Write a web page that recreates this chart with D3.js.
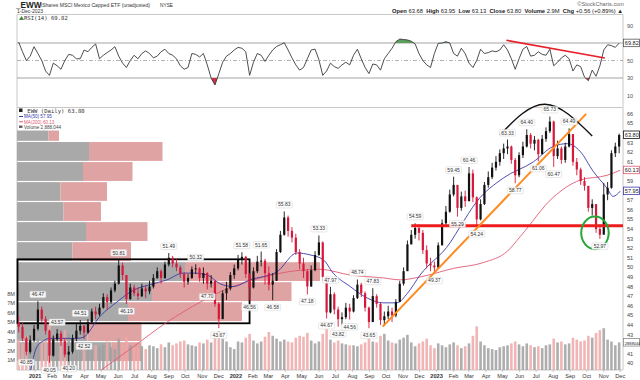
<!DOCTYPE html>
<html><head><meta charset="utf-8">
<script src="https://cdn.jsdelivr.net/npm/d3@7"></script>
<style>
body{margin:0;background:#fff}
svg{display:block}
text{font-family:"Liberation Sans",Arial,sans-serif}
.mono{font-family:"DejaVu Sans Mono",monospace}
</style>
</head><body>
<svg id="chart" width="640" height="380"></svg>
<script>
// ---------------- DATA ----------------
const firstWeek = "2020-12-04", lastWeek = "2023-12-01";   // weekly candles (Fridays)
const closes = [
43.8,42.6,41.2,42.4,43.6,
45.6,44.6,43.4,40.8, 42.5,43.1,42.3,40.9, 41.2,42.6,43.4,43.9, 43.2,44.3,45.4,45.1,45.8, 46.9,46.4,47.6,48.3,
50.2,49.2,46.7,47.9, 47.3,47.0,47.8,47.5,48.0, 48.9,49.6,48.9,50.3, 51.0,50.4,50.0,49.3, 48.5,48.9,49.8,49.9,48.9,
49.4,48.3,48.6,46.2, 44.6,47.3,47.8,49.2,49.9,
50.8,51.1,49.3,47.9, 49.6,50.6,50.7,49.4, 48.2,48.6,51.6,53.4, 55.2,53.8,53.1,51.6,50.4, 49.6,48.0,49.7,51.3,
52.6,49.0,45.3,47.2, 45.6,44.6,44.8,45.8,45.4, 46.8,48.2,47.3,45.8, 44.3,47.0,46.2,44.5,44.9, 45.4,45.0,46.4,48.3,
49.6,52.4,53.4,54.1, 53.6,51.8,50.4,50.2,50.0,
52.3,54.6,55.8,57.6, 58.6,56.2,57.4,56.9, 59.8,57.3,55.0,56.6,58.6, 59.4,60.4,61.0,61.9, 62.4,62.6,61.2,59.6,
61.7,62.6,63.8,62.9,63.3, 61.8,63.4,64.2,65.2, 61.6,62.4,61.2,62.6, 63.9,61.0,60.2,59.0,58.5, 56.2,56.6,54.0,53.4,
57.6,58.3,61.9,62.6, 63.80];
const highs = [
44.9,44.2,42.8,42.9,44.0,
46.47,45.9,44.9,43.5, 42.9,43.57,43.4,42.6, 41.8,43.0,44.1,44.51, 44.0,44.6,45.7,45.9,46.2, 47.3,47.2,47.9,48.6,
50.81,50.5,49.1,48.3, 48.2,47.9,48.3,48.1,48.6, 49.3,50.0,49.8,50.6, 51.49,51.2,50.9,50.2, 49.5,49.3,50.1,50.32,50.0,
50.0,49.5,49.2,48.4, 46.4,47.6,48.5,49.5,50.3,
51.3,51.58,51.2,49.4, 50.0,51.2,51.65,50.9, 50.1,49.4,51.9,53.8, 55.83,55.4,54.2,53.5,51.9, 51.0,49.8,50.2,51.7,
53.33,52.7,49.0,47.97, 47.4,45.9,45.3,46.3,46.2, 47.1,48.74,48.4,47.5, 45.9,47.83,47.2,46.3,45.4, 46.0,45.8,46.7,48.6,
50.0,52.8,53.9,54.59, 54.5,53.9,52.3,51.0,50.6,
52.6,55.0,56.4,58.1, 59.45,58.5,57.9,58.0, 60.46,60.2,57.4,57.1,58.9, 60.0,60.9,61.6,62.3, 62.9,63.33,62.7,61.4,
62.0,63.1,64.40,64.0,63.7, 63.4,63.8,64.6,65.73, 65.3,63.2,62.6,63.0, 64.49,63.9,61.4,60.4,59.4, 58.4,57.1,56.2,54.5,
58.8,58.9,62.2,63.0, 63.95];
const lows = [
43.2,42.3,40.85,41.0,42.2,
43.4,44.2,43.0,40.05, 40.7,42.3,41.8,40.6, 40.20,41.0,42.3,43.0, 42.52,43.1,44.2,44.6,44.9, 45.7,45.6,46.2,47.4,
48.2,48.7,46.19,46.6, 47.0,46.6,46.9,46.8,47.2, 47.8,48.8,48.3,48.8, 50.1,50.0,49.6,48.9, 47.9,48.2,48.8,49.3,48.5,
48.3,47.70,47.9,45.9, 43.67,44.8,46.6,47.6,48.8,
49.7,50.3,48.9,46.56, 47.8,49.4,50.1,48.2, 47.6,46.58,48.6,51.5, 53.3,53.2,52.6,51.3,49.8, 48.9,47.18,48.0,49.6,
51.2,48.6,44.67,45.2, 45.1,43.82,44.0,44.6,44.56, 45.3,46.7,46.9,45.4, 43.65,44.3,45.8,44.0,43.9, 44.6,44.3,44.8,46.4,
48.1,49.8,52.4,53.0, 52.8,51.4,49.9,49.6,49.37,
49.9,52.3,54.4,55.7, 57.4,55.29,55.9,56.3, 56.9,56.8,54.24,54.9,56.5, 58.3,59.2,60.1,60.6, 61.3,61.8,60.8,58.77,
59.4,61.4,62.5,62.4,62.2, 61.06,61.8,63.1,64.0, 60.47,61.3,60.8,60.9, 62.5,60.6,59.6,58.6,58.0, 55.8,55.4,53.6,52.97,
53.6,57.0,58.2,61.5, 61.9];
const volumesM = [
3.2,2.8,3.6,2.2,2.5,
3.4,3.0,3.1,4.8, 3.6,2.9,3.0,4.2, 3.8,3.1,2.9,2.6, 2.7,2.5,2.2,2.6,2.4, 2.6,3.0,2.4,2.2,
3.3,2.7,3.5,2.6, 2.3,2.4,2.5,2.2,2.6, 2.5,2.3,2.7,2.4, 2.9,2.6,2.8,3.0, 3.1,2.7,2.6,2.5,2.9,
2.8,3.2,2.9,3.6, 4.1,3.3,3.0,2.4,2.2,
3.0,2.9,3.4,3.8, 3.1,2.8,3.0,3.5, 4.0,3.6,3.3,3.0, 3.2,3.0,2.9,3.4,3.6, 3.5,3.9,3.1,2.8,
3.0,3.8,4.3,3.2, 2.9,3.1,2.8,2.7,2.6, 2.6,2.5,2.7,2.9, 3.3,3.0,2.9,3.6,3.8, 3.1,2.9,2.8,3.2,
3.4,3.7,2.9,2.5, 2.8,3.0,3.3,2.6,2.3,
2.8,2.6,2.4,2.7, 2.9,2.6,2.3,2.5, 2.8,3.6,4.6,3.0,2.6, 2.3,2.2,2.1,2.4, 2.5,2.6,2.8,3.0,
2.7,2.5,2.8,2.6,2.4, 2.5,2.3,2.6,2.7, 3.3,2.9,3.0,2.7, 2.8,3.4,3.2,3.0,3.1, 3.6,3.4,3.9,4.2,
4.4,3.2,3.0,2.6, 2.9];
const rsi14 = [
71,60,50,55,65.8,
58,50,38,33, 47,44,40,50, 57,56,52,52, 62,60,65,68.9,52, 56,59,62,65.8,
55,47,42,50, 56,52,58,61,58, 53,55,60,62.9, 58,56,52,44, 40,42,58,57,54,
58,45,30,22, 35,48,55,58,62,
65,64,60,33, 48,58,56,49, 56,62,66,68, 70.3,62,53,45,39, 42,52,62,63,
51,33,38,47, 43,41,45,48,45, 56,62.9,52,42, 35,46,45,39,52, 58,64,71.5,74.5,
74,73.5,72,69, 58,50,45,42,58,
69.6,70,71.5,70, 58,55,64,58, 47,42,50,62.9,58, 59,61,60,62, 68,62,52,40,
52,62.9,66,55,56, 60,57,56,62.9, 44,48,53,56, 52,38,45,43,31, 27,39,32,44,
62,68,67,65, 69.82];
// moving averages
const ma50Dates = ["2020-12-23","2021-01-04","2021-01-15","2021-01-28","2021-03-18","2021-03-29","2021-04-29","2021-05-30","2021-06-28","2021-07-29","2021-08-29","2021-09-27","2021-10-15","2021-11-10","2021-12-03","2021-12-27","2022-01-27","2022-03-17","2022-04-22","2022-05-16","2022-06-09","2022-06-27","2022-07-28","2022-08-28","2022-09-26","2022-10-21","2022-11-09","2022-12-02","2023-01-26","2023-02-13","2023-03-15","2023-05-02","2023-06-26","2023-08-01","2023-08-27","2023-09-19","2023-10-13","2023-11-07","2023-11-18","2023-12-01"];
const ma50Values = [39.0,41.7,42.3,42.6,42.6,42.7,44.9,46.4,47.6,48.2,48.7,49.4,49.4,49.2,48.3,48.0,48.7,49.55,51.5,51.3,50.8,49.4,48.0,46.8,46.3,46.3,47.3,49.2,52.6,54.25,56.85,59.3,61.0,62.6,62.9,62.1,60.0,58.25,57.4,57.95];
const ma200Dates = ["2021-04-24","2021-06-28","2021-08-29","2021-10-29","2021-12-05","2022-01-27","2022-04-28","2022-06-03","2022-07-28","2022-09-26","2022-10-27","2022-12-02","2023-02-01","2023-03-27","2023-05-10","2023-06-02","2023-08-01","2023-09-19","2023-11-07","2023-12-01"];
const ma200Values = [39.0,41.7,44.3,46.4,47.5,48.6,49.7,49.8,49.2,48.9,48.7,49.0,49.9,50.5,51.7,53.2,57.3,59.1,59.6,60.13];
// volume by price (zones from bottom to top; up / down volume, millions)
const vbpBottoms = [40.17,42.26,44.34,46.43,48.52,50.60,52.69,54.78,56.87,58.95,61.04,63.13];
const vbpTops    = [42.26,44.34,46.43,48.52,50.60,52.69,54.78,56.87,58.95,61.04,63.13,64.33];
const vbpUp   = [63,47,74,90,112,37,46,31,29,44,48,21];
const vbpDown = [20,36,76,93,90,39,41,25,31,33,49,7];
// peak / trough labels
const labelDates  = ["2020-12-18","2021-01-08","2021-01-29","2021-02-12","2021-03-05","2021-03-26","2021-04-02","2021-06-04","2021-06-18","2021-09-03","2021-10-22","2021-11-12","2021-12-03","2022-01-14","2022-01-28","2022-02-18","2022-03-11","2022-04-01","2022-05-13","2022-06-03","2022-06-17","2022-06-24","2022-07-08","2022-07-29","2022-08-12","2022-09-02","2022-09-09","2022-11-25","2022-12-30","2023-02-03","2023-02-10","2023-03-03","2023-03-17","2023-05-12","2023-05-26","2023-06-16","2023-07-07","2023-07-28","2023-08-04","2023-09-01","2023-10-27"];
const labelValues = [40.85,46.47,40.05,43.57,40.20,44.51,42.52,50.81,46.19,51.49,50.32,47.70,43.67,51.58,46.56,51.65,46.58,55.83,47.18,53.33,44.67,47.97,43.82,44.56,48.74,43.65,47.83,54.59,49.37,59.45,55.29,60.46,54.24,63.33,58.77,64.40,61.06,65.73,60.47,64.49,52.97];
const labelKinds  = ["L","H","L","H","L","H","L","H","L","H","H","L","L","H","L","H","L","H","L","H","L","H","L","L","H","L","H","H","L","H","L","H","L","H","L","H","L","H","L","H","L"];
// annotations (date, value)
const supportLine = [["2022-11-16",54.35],["2023-12-06",54.35]];
const trendLine   = [["2022-09-25",43.82],["2023-09-30",66.0]];
const topArc      = [["2023-04-26",63.8],["2023-07-17",67.0],["2023-10-11",63.7]];
const boxZone     = [["2020-11-29",44.17],["2022-01-25",50.84]];
const circleLow   = {date:"2023-10-16", value:53.6, days:25, dv:1.7};
const rsiTrend    = [["2023-05-08",73.1],["2023-11-03",52.9]];
const priceTicks = d3.range(40,67);
const rsiTicks = [10,30,50,70,90];
const volTicks = [1,2,3,4,5,6,7,8];

// ---------------- CHART ----------------
const parse = d3.timeParse("%Y-%m-%d");
const svg = d3.select("#chart");
const L = 17, R = 623;
const x = d3.scaleTime().domain([parse("2020-11-29"), parse("2023-12-06")]).range([L, R]);
const y = d3.scaleLinear().domain([39.30, 66.72]).range([370, 107]);
const yv = d3.scaleLinear().domain([0, 27.68]).range([370, 107]);
const yr = d3.scaleLinear().domain([0, 100]).range([104.25, 16.75]);
const vbpX = d3.scaleLinear().domain([0, 404]).range([0, 606]);

const weeks = d3.timeFriday.range(parse(firstWeek), d3.timeDay.offset(parse(lastWeek), 1));
const data = weeks.map((d, i) => ({
  date: d, cx: x(d3.timeDay.offset(d, -2)),
  o: i ? closes[i-1] : 44.2, c: closes[i], h: highs[i], l: lows[i], v: volumesM[i], r: rsi14[i]
}));

// header
const hdr = svg.append("g");
hdr.append("text").attr("x", 16).attr("y", 7.5).attr("font-size", 8.2).attr("font-weight", "bold").attr("fill","#222").text("_EWW");
hdr.append("text").attr("x", 41).attr("y", 7).attr("font-size", 5.1).attr("fill","#333").text("iShares MSCI Mexico Capped ETF (unadjusted)");
hdr.append("text").attr("x", 160).attr("y", 7).attr("font-size", 4.8).attr("fill","#333").text("NYSE");
hdr.append("text").attr("x", 17).attr("y", 13).attr("font-size", 5).attr("fill","#333").text("1-Dec-2023");
hdr.append("text").attr("x", 624).attr("y", 6).attr("font-size", 5.6).attr("text-anchor","end").attr("fill","#666").text("©StockCharts.com");
const ohlc = hdr.append("text").attr("x", 623).attr("y", 12.5).attr("font-size", 5.8).attr("text-anchor","end").attr("fill","#222");
[["Open"," 63.68  "],["High"," 63.95  "],["Low"," 63.13  "],["Close"," 63.80  "],["Volume"," 2.9M  "],["Chg"," +0.56 (+0.89%) ▲"]].forEach(([k,v])=>{
  ohlc.append("tspan").attr("font-weight","bold").text(k);
  ohlc.append("tspan").attr("xml:space","preserve").text(v);
});

// value box helper
function valBox(g, yy, txt, color, fs){
  g.append("rect").attr("x", 623.5).attr("y", yy-4).attr("width", 16).attr("height", 7.5).attr("fill","#fff").attr("stroke", color).attr("stroke-width",0.8);
  g.append("text").attr("x", 624.8).attr("y", yy+2).attr("font-size", fs || 5.6).attr("fill", "#222").text(txt);
}
function freeOf(yy, boxes){ return boxes.every(b => Math.abs(b - yy) > 6); }

// ---------- RSI panel ----------
const rg = svg.append("g");
rg.append("line").attr("x1", L).attr("x2", R).attr("y1", 14.5).attr("y2", 14.5).attr("stroke", "#c8c8c8");
rg.append("line").attr("x1", L).attr("x2", L).attr("y1", 14.5).attr("y2", 370).attr("stroke", "#c8c8c8");
rg.append("line").attr("x1", R).attr("x2", R).attr("y1", 14.5).attr("y2", 370).attr("stroke", "#c8c8c8");
[30,70].forEach(v => rg.append("line").attr("x1", L).attr("x2", R).attr("y1", yr(v)).attr("y2", yr(v)).attr("stroke", "#9a9a9a").attr("stroke-width", 0.9));
rg.append("line").attr("x1", L).attr("x2", R).attr("y1", yr(50)).attr("y2", yr(50)).attr("stroke", "#aaa").attr("stroke-width", 0.9).attr("stroke-dasharray", "4,2,1,2");
const rsiBoxes = [yr(69.82)];
rsiTicks.forEach(v => { if (freeOf(yr(v), rsiBoxes)) rg.append("text").attr("x", 627).attr("y", yr(v)+2).attr("font-size", 5.6).attr("fill", "#555").text(v); });
const rsiLine = d3.line().x(d => d.cx).y(d => yr(d.r));
svg.append("clipPath").attr("id","ob").append("rect").attr("x",L).attr("y",0).attr("width",R-L).attr("height",yr(70));
svg.append("clipPath").attr("id","os").append("rect").attr("x",L).attr("y",yr(30)).attr("width",R-L).attr("height",110-yr(30));
rg.append("path").datum(data).attr("clip-path","url(#ob)").attr("fill","#5aa05a")
  .attr("d", d3.area().x(d=>d.cx).y0(yr(70)).y1(d=>yr(d.r)));
rg.append("path").datum(data).attr("clip-path","url(#os)").attr("fill","#d03040")
  .attr("d", d3.area().x(d=>d.cx).y0(yr(30)).y1(d=>yr(d.r)));
rg.append("path").datum(data).attr("fill","none").attr("stroke","#3a3a3a").attr("stroke-width",0.9).attr("d", rsiLine);
rg.append("path").attr("fill","none").attr("stroke","#e8202a").attr("stroke-width",1.6)
  .attr("d", d3.line().x(d=>x(parse(d[0]))).y(d=>yr(d[1]))(rsiTrend));
rg.append("text").attr("class","mono").attr("x", 24).attr("y", 20).attr("font-size", 5.6).attr("fill","#333").text("RSI(14) 69.82");
rg.append("path").attr("d","M19,20 L21.5,16 L24,20 Z").attr("fill","#3a8a3a");
valBox(rg, yr(69.82), "69.82", "#555");

// ---------- main panel ----------
const mg = svg.append("g");
mg.append("line").attr("x1", L).attr("x2", R).attr("y1", 107.5).attr("y2", 107.5).attr("stroke", "#c8c8c8");
mg.append("line").attr("x1", L).attr("x2", R).attr("y1", 370).attr("y2", 370).attr("stroke", "#c8c8c8");
// volume by price
vbpBottoms.forEach((b, i) => {
  const top = y(vbpTops[i]) + 0.6, bot = y(b) - 0.6;
  const wU = vbpX(vbpUp[i]), wD = vbpX(vbpDown[i]);
  mg.append("rect").attr("x", L).attr("y", top).attr("width", wU).attr("height", bot-top).attr("fill", "#a9a9a9");
  mg.append("rect").attr("x", L + wU).attr("y", top).attr("width", wD).attr("height", bot-top).attr("fill", "#e0a3a3");
});
// volume bars
mg.selectAll(".vb").data(data).enter().append("rect")
  .attr("x", d => d.cx - 1.3).attr("width", 2.6)
  .attr("y", d => yv(d.v)).attr("height", d => yv(0) - yv(d.v))
  .attr("fill", d => d.c >= d.o ? "#a0a0a0" : "#eea8a8").attr("opacity", 0.85);
volTicks.forEach(v => mg.append("text").attr("x", 15).attr("y", yv(v)+2).attr("font-size", 5.6).attr("text-anchor","end").attr("fill","#444").text(v + "M"));
// box zone
mg.append("rect").attr("x", x(parse(boxZone[0][0]))+0.5).attr("y", y(boxZone[1][1]))
  .attr("width", x(parse(boxZone[1][0])) - x(parse(boxZone[0][0]))).attr("height", y(boxZone[0][1]) - y(boxZone[1][1]))
  .attr("fill","none").attr("stroke","#000").attr("stroke-width",1.8);
// moving averages
const maLine = d3.line().x(d => x(d[0])).y(d => y(d[1])).curve(d3.curveMonotoneX);
svg.append("clipPath").attr("id","mp").append("rect").attr("x",L).attr("y",107).attr("width",R-L).attr("height",263);
mg.append("path").attr("clip-path","url(#mp)").attr("fill","none").attr("stroke","#e05a72").attr("stroke-width",0.9)
  .attr("d", maLine(ma200Dates.map((d,i)=>[parse(d), ma200Values[i]])));
mg.append("path").attr("clip-path","url(#mp)").attr("fill","none").attr("stroke","#3a3aa8").attr("stroke-width",0.9)
  .attr("d", maLine(ma50Dates.map((d,i)=>[parse(d), ma50Values[i]])));
// candles
const cg = mg.append("g");
data.forEach(d => {
  const col = d.c >= d.o ? "#111" : "#d8173a";
  cg.append("line").attr("x1", d.cx).attr("x2", d.cx).attr("y1", y(d.h)).attr("y2", y(d.l)).attr("stroke", col).attr("stroke-width", 0.9);
  const t = y(Math.max(d.o, d.c)), b = y(Math.min(d.o, d.c));
  cg.append("rect").attr("x", d.cx - 1.1).attr("width", 2.2).attr("y", t).attr("height", Math.max(0.8, b - t)).attr("fill", col);
});
// annotations
mg.append("path").attr("fill","none").attr("stroke","#ee1c1c").attr("stroke-width",3)
  .attr("d", d3.line().x(d=>x(parse(d[0]))).y(d=>y(d[1]))(supportLine));
mg.append("path").attr("fill","none").attr("stroke","#ff8a1e").attr("stroke-width",2)
  .attr("d", d3.line().x(d=>x(parse(d[0]))).y(d=>y(d[1]))(trendLine));
mg.append("path").attr("fill","none").attr("stroke","#111").attr("stroke-width",1.4)
  .attr("d", d3.line().x(d=>x(parse(d[0]))).y(d=>y(d[1])).curve(d3.curveNatural)(topArc));
{
  const cd = parse(circleLow.date);
  mg.append("ellipse").attr("cx", x(cd)).attr("cy", y(circleLow.value))
    .attr("rx", x(d3.timeDay.offset(cd, circleLow.days)) - x(cd)).attr("ry", y(circleLow.value - circleLow.dv) - y(circleLow.value))
    .attr("fill","none").attr("stroke","#25a83a").attr("stroke-width",2);
}
// peak labels
labelDates.forEach((ds, i) => {
  const d = parse(ds);
  const cx = x(d3.timeDay.offset(d, -2));
  const hi = labelKinds[i] === "H";
  const ty = hi ? y(labelValues[i]) - 5 : y(labelValues[i]) + 9;
  const txt = labelValues[i].toFixed(2);
  mg.append("rect").attr("x", cx - 8).attr("y", ty - 5).attr("width", 16).attr("height", 6.5).attr("rx",1)
    .attr("fill","#fff").attr("fill-opacity",0.9).attr("stroke","#cfcfcf").attr("stroke-width",0.5);
  mg.append("text").attr("x", cx).attr("y", ty).attr("font-size", 5).attr("text-anchor","middle").attr("fill","#333").text(txt);
});
// price axis
const priceBoxes = [y(63.80), y(60.13), y(57.95), yv(2.888)];
priceTicks.forEach(v => { if (freeOf(y(v), priceBoxes)) mg.append("text").attr("x", 627).attr("y", y(v)+2).attr("font-size", 5.6).attr("fill","#444").text(v); });
valBox(mg, y(63.80), "63.80", "#111");
valBox(mg, y(60.13), "60.13", "#e05a72");
valBox(mg, y(57.95), "57.95", "#3a3aa8");
valBox(mg, yv(2.888), "2888044", "#888", 4.1);
// legend
mg.append("rect").attr("x",19).attr("y",108.5).attr("width",3.5).attr("height",3.5).attr("fill","#222");
mg.append("text").attr("class","mono").attr("x", 24).attr("y", 112.5).attr("font-size", 5.6).attr("fill","#333").text("_EWW (Daily) 63.80");
mg.append("line").attr("x1",19).attr("x2",23).attr("y1",116.5).attr("y2",116.5).attr("stroke","#3a3aa8").attr("stroke-width",1);
mg.append("text").attr("x", 24).attr("y", 118.3).attr("font-size", 4.6).attr("fill","#3a3aa8").text("MA(50) 57.95");
mg.append("line").attr("x1",19).attr("x2",23).attr("y1",121.8).attr("y2",121.8).attr("stroke","#e05a72").attr("stroke-width",1);
mg.append("text").attr("x", 24).attr("y", 123.6).attr("font-size", 4.6).attr("fill","#e05a72").text("MA(200) 60.13");
mg.append("rect").attr("x",19).attr("y",125.5).attr("width",3.5).attr("height",2.5).attr("fill","#666");
mg.append("text").attr("x", 24).attr("y", 128.8).attr("font-size", 4.6).attr("fill","#444").text("Volume 2,888,044");
// x axis
const months = d3.timeMonth.range(parse("2021-01-01"), parse("2023-12-02"));
months.forEach(m => {
  const isJan = m.getMonth() === 0;
  mg.append("line").attr("x1", x(m)).attr("x2", x(m)).attr("y1", 370).attr("y2", 372).attr("stroke","#aaa").attr("stroke-width",0.6);
  mg.append("text").attr("x", x(m)).attr("y", 377.5).attr("font-size", 5.6).attr("text-anchor","middle")
    .attr("font-weight", isJan ? "bold" : "normal").attr("fill","#333")
    .text(isJan ? d3.timeFormat("%Y")(m) : d3.timeFormat("%b")(m));
});
</script>
</body></html>
